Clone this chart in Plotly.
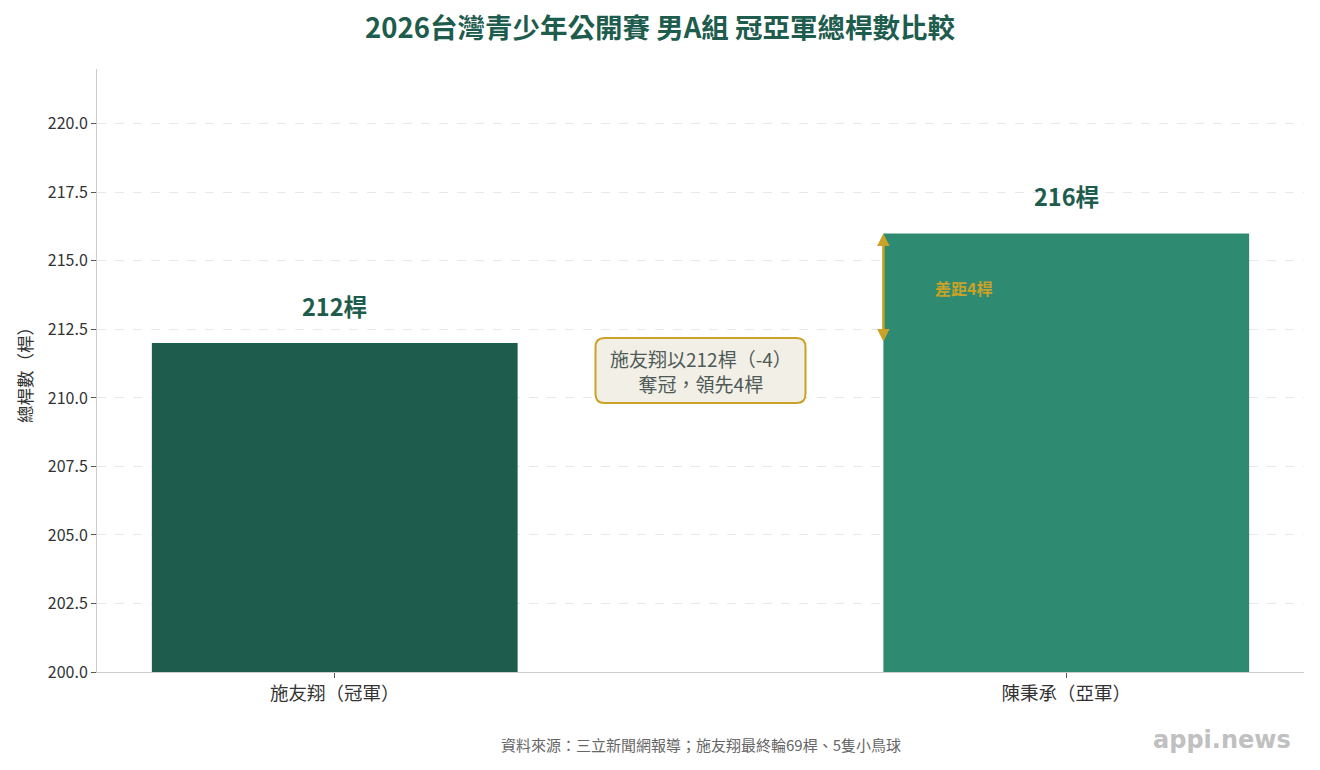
import plotly.graph_objects as go

players = ["施友翔（冠軍）", "陳秉承（亞軍）"]
totals = [212, 216]
bar_labels = ["212桿", "216桿"]
bar_colors = ["#1e5c4e", "#2e8b72"]
y_ticks = [200.0, 202.5, 205.0, 207.5, 210.0, 212.5, 215.0, 217.5, 220.0]

font_family = "Noto Sans CJK TC"
dark_green = "#1e5c4e"
gold = "#c9a227"

fig = go.Figure()
fig.add_trace(go.Bar(
    x=[0, 1],
    y=totals,
    width=0.5,
    marker_color=bar_colors,
    marker_line_width=0,
    hoverinfo="skip",
))

# labels above bars
for i, v in enumerate(totals):
    fig.add_annotation(x=i, y=v, text="<b>%s</b>" % bar_labels[i], showarrow=False,
                       yshift=37, font=dict(size=23.5, color=dark_green, family=font_family))

# gap arrow on the left edge of the runner-up bar
fig.add_annotation(x=0.75, y=totals[1], ax=0.75, ay=totals[0], xref="x", yref="y",
                   axref="x", ayref="y", text="", showarrow=True, arrowhead=2, arrowside="end+start",
                   arrowsize=1, arrowwidth=2.5, arrowcolor=gold, standoff=0, startstandoff=0)
fig.add_annotation(x=0.86, y=(totals[0] + totals[1]) / 2, text="<b>差距%d桿</b>" % (totals[1] - totals[0]),
                   showarrow=False, font=dict(size=16, color=gold, family=font_family))

# rounded note box
w, h, r = 210, 65, 9
path = ("M {a},{b} L {c},{b} Q {d},{b} {d},{e} L {d},{f} Q {d},{g} {c},{g} "
        "L {a},{g} Q {h},{g} {h},{f} L {h},{e} Q {h},{b} {a},{b} Z").format(
    a=-w / 2 + r, b=-h / 2, c=w / 2 - r, d=w / 2, e=-h / 2 + r, f=h / 2 - r, g=h / 2, h=-w / 2)
fig.add_shape(type="path", xsizemode="pixel", ysizemode="pixel", xanchor=0.5, yanchor=211.0,
              xref="x", yref="y", path=path, fillcolor="#f2efe6", line=dict(color=gold, width=2), layer="above")
fig.add_annotation(x=0.5, y=211.0, text="施友翔以212桿（-4）<br>奪冠，領先4桿", showarrow=False,
                   align="center", font=dict(size=19, color="#4d5a56", family=font_family))

# footer
fig.add_annotation(x=0.5, y=-0.121, xref="paper", yref="paper", yanchor="middle", showarrow=False,
                   text="資料來源：三立新聞網報導；施友翔最終輪69桿、5隻小鳥球",
                   font=dict(size=15, color="#666666", family=font_family))
fig.add_annotation(x=0.991, y=-0.113, xref="paper", yref="paper", xanchor="right", yanchor="middle",
                   showarrow=False, text="<b>appi.news</b>",
                   font=dict(size=24, color="#c0c0c0", family="DejaVu Sans"))

fig.update_layout(
    width=1304, height=754,
    margin=dict(l=89, r=8, t=61, b=90),
    paper_bgcolor="white",
    plot_bgcolor="white",
    showlegend=False,
    font=dict(family=font_family, color="#333333"),
    title=dict(text="<b>2026台灣青少年公開賽 男A組 冠亞軍總桿數比較</b>", x=0.5, xanchor="center",
               y=0.973, yanchor="middle", font=dict(size=27.5, color=dark_green, family=font_family)),
    xaxis=dict(range=[-0.325, 1.325], tickvals=[0, 1], ticktext=players, tickfont=dict(size=18.5, color="#333333"),
               showgrid=False, showline=True, linecolor="#cccccc", ticks="outside", ticklen=5,
               tickcolor="#555555", zeroline=False),
    yaxis=dict(range=[200, 222], tickvals=y_ticks, ticktext=["%.1f" % t for t in y_ticks],
               tickfont=dict(size=16, color="#333333"), showgrid=True, gridcolor="#e8e8e8", griddash="dash",
               showline=True, linecolor="#cccccc", ticks="outside", ticklen=5, tickcolor="#555555",
               zeroline=False, title=dict(text="總桿數（桿）", font=dict(size=17.5, color="#333333"), standoff=10)),
)

fig.write_html("out.html")
